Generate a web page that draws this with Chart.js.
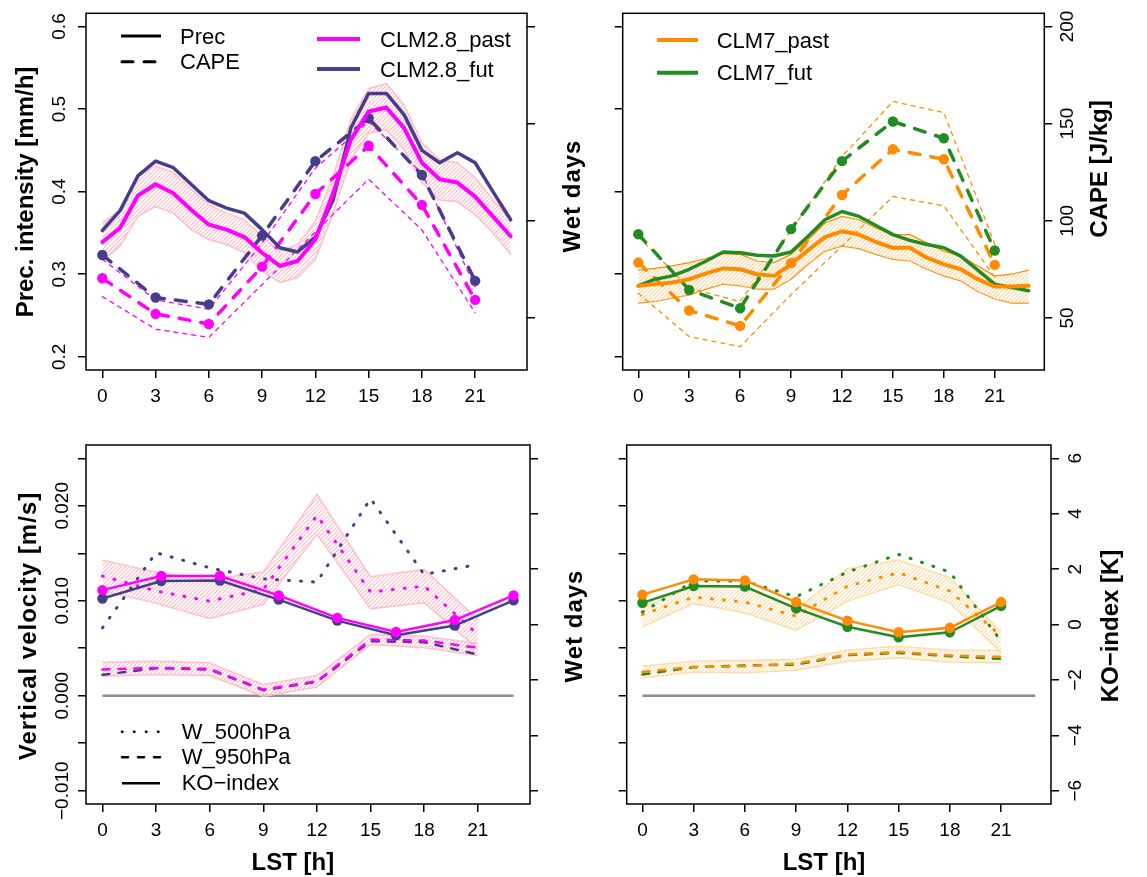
<!DOCTYPE html>
<html>
<head>
<meta charset="utf-8">
<title>Diurnal cycles CLM2.8 / CLM7</title>
<script src="https://cdn.jsdelivr.net/npm/chart.js@4.4.1/dist/chart.umd.min.js"></script>
<style>
html,body{margin:0;padding:0;background:#fff;}
#wrap{position:relative;width:1147px;height:877px;overflow:hidden;background:#fff;font-family:"Liberation Sans",Arial,Helvetica,sans-serif;color:#000;}
#wrap canvas{position:absolute;}
#wrap svg{position:absolute;left:0;top:0;}
.txt{position:absolute;white-space:nowrap;line-height:1;}
.ttl{font-weight:bold;font-size:24px;}
.rot{transform:translate(-50%,-50%) rotate(-90deg);}
.ctr{transform:translate(-50%,-50%);}
.leg{font-size:22px;transform:translateY(-50%);}
</style>
</head>
<body>
<div id="wrap">
<canvas id="cTL" width="573" height="455" style="left:0px;top:-20px"></canvas>
<canvas id="cTR" width="574" height="455" style="left:573px;top:-20px"></canvas>
<canvas id="cBL" width="573" height="457" style="left:0px;top:420px"></canvas>
<canvas id="cBR" width="574" height="457" style="left:573px;top:420px"></canvas>
<svg width="1147" height="877">
  <line x1="121" y1="36" x2="161" y2="36" stroke="#000" stroke-width="3"/>
  <line x1="122" y1="61.7" x2="161" y2="61.7" stroke="#000" stroke-width="3" stroke-dasharray="11 11" stroke-linecap="round"/>
  <line x1="317" y1="39" x2="360" y2="39" stroke="#FF00FF" stroke-width="4"/>
  <line x1="317" y1="69" x2="360" y2="69" stroke="#483D8B" stroke-width="4"/>
  <line x1="657" y1="40" x2="698" y2="40" stroke="#FF8C00" stroke-width="4"/>
  <line x1="657" y1="72.7" x2="698" y2="72.7" stroke="#228B22" stroke-width="4"/>
  <line x1="122" y1="731.7" x2="160" y2="731.7" stroke="#000" stroke-width="2.5" stroke-dasharray="0.5 11.5" stroke-linecap="round"/>
  <line x1="122" y1="757.3" x2="160" y2="757.3" stroke="#000" stroke-width="2.5" stroke-dasharray="6 10" stroke-linecap="round"/>
  <line x1="122" y1="783.3" x2="160" y2="783.3" stroke="#000" stroke-width="2.5"/>
</svg>
<div class="txt leg" style="left:180px;top:36.5px">Prec</div>
<div class="txt leg" style="left:180px;top:62px">CAPE</div>
<div class="txt leg" style="left:380px;top:40px">CLM2.8_past</div>
<div class="txt leg" style="left:380px;top:70px">CLM2.8_fut</div>
<div class="txt leg" style="left:716.7px;top:40.5px">CLM7_past</div>
<div class="txt leg" style="left:716.7px;top:73.3px">CLM7_fut</div>
<div class="txt leg" style="left:181.7px;top:731.7px">W_500hPa</div>
<div class="txt leg" style="left:181.7px;top:757px">W_950hPa</div>
<div class="txt leg" style="left:181.7px;top:783.3px">KO−index</div>

<div class="txt ttl rot" style="left:25px;top:191.7px">Prec. intensity [mm/h]</div>
<div class="txt ttl rot" style="left:572px;top:196px;letter-spacing:1px">Wet days</div>
<div class="txt ttl rot" style="left:1099px;top:169px">CAPE [J/kg]</div>
<div class="txt ttl rot" style="left:28px;top:626px;letter-spacing:1px">Vertical velocity [m/s]</div>
<div class="txt ttl rot" style="left:574px;top:625.7px;letter-spacing:1px">Wet days</div>
<div class="txt ttl rot" style="left:1110px;top:625.6px">KO−index [K]</div>
<div class="txt ttl ctr" style="left:292.8px;top:862px">LST [h]</div>
<div class="txt ttl ctr" style="left:824px;top:862px">LST [h]</div>
</div>

<script>
// ---------------- data ----------------
const hours = [0,1,2,3,4,5,6,7,8,9,10,11,12,13,14,15,16,17,18,19,20,21,22,23];
const hours3 = [0,3,6,9,12,15,18,21];
const koHoursLeft = [0,3.29,6.57,9.86,13.14,16.43,19.71,23];
const zeroLineX = [0,23];
const zeroLineY = [0,0];

const hourTicks = [0,3,6,9,12,15,18,21];
const hourTickLabels = ['0','3','6','9','12','15','18','21'];
const precTicks = [0.2,0.3,0.4,0.5,0.6];
const precTickLabels = ['0.2','0.3','0.4','0.5','0.6'];
const capeTicks = [50,100,150,200];
const capeTickLabels = ['50','100','150','200'];
const velTicks = [-0.010,-0.005,0,0.005,0.010,0.015,0.020,0.025];
const velTickLabels = ['−0.010','','0.000','','0.010','','0.020',''];
const koTicks = [-6,-4,-2,0,2,4,6];
const koTickLabels = ['−6','−4','−2','0','2','4','6'];

const hourLim = [-0.92, 23.92];
const precLim = [0.184, 0.616];
const capeLim = [23.2, 206.8];
const velLim = [-0.0114, 0.0264];
const koLim = [-6.48, 6.48];

// top-left: CLM2.8 precipitation intensity (hourly) and CAPE (3-hourly)
const precPast28   = [0.339,0.356,0.395,0.409,0.398,0.378,0.360,0.354,0.345,0.326,0.310,0.316,0.342,0.398,0.463,0.497,0.502,0.477,0.435,0.415,0.411,0.394,0.370,0.346];
const precFut28    = [0.353,0.377,0.419,0.437,0.429,0.409,0.389,0.380,0.374,0.354,0.332,0.327,0.345,0.390,0.477,0.519,0.519,0.493,0.450,0.435,0.447,0.435,0.400,0.366];
const precPast28Hi = [0.362,0.378,0.419,0.431,0.423,0.403,0.384,0.374,0.366,0.346,0.328,0.336,0.364,0.419,0.487,0.525,0.531,0.505,0.459,0.439,0.435,0.417,0.390,0.366];
const precPast28Lo = [0.316,0.334,0.370,0.382,0.374,0.354,0.342,0.336,0.326,0.304,0.290,0.296,0.318,0.374,0.439,0.471,0.475,0.451,0.411,0.390,0.388,0.372,0.350,0.324];
const capePast28   = [70.4,52.1,46.9,76.4,113.8,138.6,108.2,59.3];
const capeFut28    = [82.4,60.5,57.0,92.4,130.7,152.8,123.6,69.1];
const capePast28Hi = [80.2,59.3,54.5,88.5,127.1,151.1,124.5,66.0];
const capePast28Lo = [61.0,44.2,40.0,67.2,94.3,121.4,95.3,52.6];

// top-right: CLM7
const precPast7   = [0.286,0.288,0.290,0.294,0.301,0.307,0.306,0.300,0.298,0.312,0.329,0.345,0.352,0.348,0.339,0.332,0.332,0.320,0.312,0.306,0.294,0.285,0.285,0.286];
const precFut7    = [0.286,0.294,0.298,0.306,0.316,0.327,0.326,0.323,0.322,0.327,0.346,0.366,0.376,0.370,0.359,0.348,0.341,0.336,0.332,0.322,0.305,0.288,0.284,0.280];
const precPast7Hi = [0.305,0.307,0.310,0.314,0.319,0.325,0.324,0.316,0.314,0.324,0.342,0.362,0.370,0.366,0.356,0.348,0.348,0.338,0.328,0.322,0.310,0.298,0.300,0.305];
const precPast7Lo = [0.265,0.267,0.271,0.275,0.282,0.288,0.286,0.282,0.282,0.294,0.312,0.328,0.334,0.331,0.324,0.318,0.316,0.306,0.298,0.292,0.279,0.270,0.265,0.265];
const capePast7   = [78.5,53.8,45.9,78.2,113.3,136.8,131.7,77.3];
const capeFut7    = [93.1,64.4,55.0,95.7,130.7,151.1,142.5,84.7];
const capePast7Hi = [91.9,65.3,58.4,95.0,133.0,161.4,155.7,88.0];
const capePast7Lo = [62.7,40.4,35.2,62.0,87.0,112.5,107.7,71.0];

// bottom-left: CLM2.8 vertical velocity and KO-index
const w500Fut28    = [0.00715,0.01506,0.01347,0.01231,0.01196,0.02075,0.01277,0.01383];
const w500Past28   = [0.01260,0.01102,0.00996,0.01119,0.01899,0.01091,0.01154,0.00645];
const w500Past28Hi = [0.01428,0.01300,0.01225,0.01302,0.02120,0.01253,0.01330,0.00803];
const w500Past28Lo = [0.01102,0.00975,0.00813,0.00961,0.01699,0.00915,0.00979,0.00494];
const w950Past28   = [0.00276,0.00293,0.00283,0.00065,0.00153,0.00592,0.00581,0.00504];
const w950Fut28    = [0.00220,0.00290,0.00276,0.00058,0.00146,0.00574,0.00564,0.00434];
const w950Past28Hi = [0.00353,0.00364,0.00346,0.00118,0.00213,0.00645,0.00627,0.00550];
const w950Past28Lo = [0.00206,0.00223,0.00213,-0.00005,0.00093,0.00539,0.00504,0.00423];
const koPast28 = [1.24,1.75,1.75,1.05,0.24,-0.27,0.16,1.05];
const koFut28  = [0.94,1.57,1.59,0.90,0.14,-0.39,-0.04,0.87];

// bottom-right: CLM7
const w500Fut7    = [0.00880,0.01207,0.01207,0.01042,0.01302,0.01488,0.01302,0.00574];
const w500Past7   = [0.00856,0.01038,0.00986,0.00838,0.01154,0.01295,0.01102,0.00627];
const w500Past7Hi = [0.00926,0.01154,0.01154,0.00908,0.01337,0.01428,0.01242,0.00669];
const w500Past7Lo = [0.00726,0.00972,0.00873,0.00690,0.00996,0.01172,0.00979,0.00452];
const w950Past7   = [0.00251,0.00304,0.00311,0.00339,0.00434,0.00462,0.00423,0.00409];
const w950Fut7    = [0.00223,0.00300,0.00318,0.00328,0.00427,0.00451,0.00416,0.00388];
const w950Past7Hi = [0.00311,0.00364,0.00371,0.00381,0.00480,0.00522,0.00480,0.00477];
const w950Past7Lo = [0.00188,0.00251,0.00241,0.00269,0.00364,0.00399,0.00353,0.00346];
const koPast7 = [1.08,1.63,1.59,0.81,0.14,-0.28,-0.12,0.81];
const koFut7  = [0.78,1.39,1.37,0.58,-0.08,-0.46,-0.28,0.67];

// ---------------- styling helpers ----------------
const FONT = '"Liberation Sans", Arial, Helvetica, sans-serif';
const COL = { magenta:'#FF00FF', slate:'#483D8B', orange:'#FF8C00', green:'#228B22', gray:'#8C8C8C' };

function hatch(color) {
  const s = 4;
  const c = document.createElement('canvas');
  c.width = s; c.height = s;
  const g = c.getContext('2d');
  g.strokeStyle = color; g.lineWidth = 1.1;
  g.beginPath();
  g.moveTo(-1, s + 1); g.lineTo(s + 1, -1);
  g.moveTo(-1, 1); g.lineTo(1, -1);
  g.moveTo(s - 1, s + 1); g.lineTo(s + 1, s - 1);
  g.stroke();
  return g.createPattern(c, 'repeat');
}
const pinkHatch = hatch('#FFBCC6');
const orangeHatch = hatch('#FFD39E');
const paleOrangeHatch = hatch('#FFDDAE');

function xy(xs, ys) { return xs.map((x, i) => ({ x: x, y: ys[i] })); }
function line(xs, ys, axis, o) {
  return Object.assign({
    data: xy(xs, ys), xAxisID: 'x', yAxisID: axis,
    borderColor: '#000', borderWidth: 1, pointRadius: 0, pointHoverRadius: 0,
    fill: false, tension: 0, borderCapStyle: 'round', borderJoinStyle: 'round', order: 1
  }, o);
}
function pts(color, r) {
  return { pointRadius: r, pointHoverRadius: r, pointBackgroundColor: color, pointBorderColor: color, pointBorderWidth: 0 };
}
function band(xs, hi, lo, axis, edge, pattern, w) {
  return [
    line(xs, hi, axis, { borderColor: edge, borderWidth: w, backgroundColor: pattern, fill: '+1', order: 20, borderCapStyle: 'butt' }),
    line(xs, lo, axis, { borderColor: edge, borderWidth: w, order: 20, borderCapStyle: 'butt' })
  ];
}

const gridOpts = { display: true, drawOnChartArea: false, drawTicks: true, tickLength: 8, tickWidth: 1.5, tickColor: '#000', color: '#000', lineWidth: 1.5 };

function yAxis(pos, lim, ticks, labels, width, pad) {
  return {
    type: 'linear', position: pos, min: lim[0], max: lim[1],
    afterBuildTicks: s => { s.ticks = ticks.map(v => ({ value: v })); },
    afterFit: s => { s.width = width; },
    border: { display: false },
    grid: gridOpts,
    ticks: {
      display: !!labels, autoSkip: false, minRotation: 90, maxRotation: 90, crossAlign: 'center',
      padding: pad, color: '#000', font: { family: FONT, size: 19 },
      callback: (v, i) => labels ? labels[i] : ''
    }
  };
}
function xAxis(height, pad) {
  return {
    type: 'linear', position: 'bottom', min: hourLim[0], max: hourLim[1],
    afterBuildTicks: s => { s.ticks = hourTicks.map(v => ({ value: v })); },
    afterFit: s => { s.height = height; },
    border: { display: false },
    grid: gridOpts,
    ticks: { autoSkip: false, minRotation: 0, maxRotation: 0, padding: pad, color: '#000', font: { family: FONT, size: 19 },
      callback: (v, i) => hourTickLabels[i] }
  };
}

const framePlugin = {
  id: 'frame',
  afterDatasetsDraw(chart) {
    const a = chart.chartArea, ctx = chart.ctx;
    ctx.save();
    ctx.strokeStyle = '#000'; ctx.lineWidth = 1.5;
    ctx.strokeRect(a.left, a.top, a.right - a.left, a.bottom - a.top);
    ctx.restore();
  }
};

function makePanel(id, padTop, datasets, scales) {
  return new Chart(document.getElementById(id), {
    type: 'line',
    data: { datasets: datasets },
    options: {
      responsive: false, animation: false, events: [], devicePixelRatio: 1,
      layout: { autoPadding: false, padding: { top: padTop, left: 0, right: 0, bottom: 0 } },
      plugins: { legend: { display: false }, tooltip: { enabled: false } },
      scales: scales
    },
    plugins: [framePlugin]
  });
}

// ---------------- top-left ----------------
makePanel('cTL', 33.3, [
  ...band(hours, precPast28Hi, precPast28Lo, 'yL', '#FFC0CB', pinkHatch, 1.5),
  line(hours3, capePast28Hi, 'yR', { borderColor: COL.magenta, borderWidth: 1.3, borderDash: [4, 5], order: 10 }),
  line(hours3, capePast28Lo, 'yR', { borderColor: COL.magenta, borderWidth: 1.3, borderDash: [4, 5], order: 10 }),
  line(hours3, capeFut28, 'yR', Object.assign({ borderColor: COL.slate, borderWidth: 3.5, borderDash: [11, 11], order: 3 }, pts(COL.slate, 5.2))),
  line(hours3, capePast28, 'yR', Object.assign({ borderColor: COL.magenta, borderWidth: 3.5, borderDash: [11, 11], order: 3 }, pts(COL.magenta, 5.2))),
  line(hours, precFut28, 'yL', { borderColor: COL.slate, borderWidth: 3.5, order: 2 }),
  line(hours, precPast28, 'yL', { borderColor: COL.magenta, borderWidth: 4, order: 1 })
], {
  x: xAxis(65, 7),
  yL: yAxis('left', precLim, precTicks, precTickLabels, 86, 4.8),
  yR: yAxis('right', capeLim, capeTicks, null, 46, 0)
});

// ---------------- top-right ----------------
makePanel('cTR', 33.3, [
  ...band(hours, precPast7Hi, precPast7Lo, 'yL', COL.orange, orangeHatch, 1.2),
  line(hours3, capePast7Hi, 'yR', { borderColor: COL.orange, borderWidth: 1.3, borderDash: [4, 5], order: 10 }),
  line(hours3, capePast7Lo, 'yR', { borderColor: COL.orange, borderWidth: 1.3, borderDash: [4, 5], order: 10 }),
  line(hours3, capeFut7, 'yR', Object.assign({ borderColor: COL.green, borderWidth: 3.5, borderDash: [11, 11], order: 3 }, pts(COL.green, 5.2))),
  line(hours3, capePast7, 'yR', Object.assign({ borderColor: COL.orange, borderWidth: 3.5, borderDash: [11, 11], order: 3 }, pts(COL.orange, 5.2))),
  line(hours, precFut7, 'yL', { borderColor: COL.green, borderWidth: 3.5, order: 2 }),
  line(hours, precPast7, 'yL', { borderColor: COL.orange, borderWidth: 4, order: 1 })
], {
  x: xAxis(65, 7),
  yL: yAxis('left', precLim, precTicks, null, 49.7, 0),
  yR: yAxis('right', capeLim, capeTicks, capeTickLabels, 102.7, -0.6)
});

// ---------------- bottom-left ----------------
makePanel('cBL', 25, [
  line(zeroLineX, zeroLineY, 'yL', { borderColor: COL.gray, borderWidth: 2.5, borderCapStyle: 'butt', order: 30 }),
  ...band(hours3, w500Past28Hi, w500Past28Lo, 'yL', '#FFC0CB', pinkHatch, 1.5),
  ...band(hours3, w950Past28Hi, w950Past28Lo, 'yL', '#FFC0CB', pinkHatch, 1.5),
  line(hours3, w500Fut28, 'yL', { borderColor: COL.slate, borderWidth: 3, borderDash: [1, 11], order: 5 }),
  line(hours3, w500Past28, 'yL', { borderColor: COL.magenta, borderWidth: 3, borderDash: [1, 11], order: 4 }),
  line(hours3, w950Fut28, 'yL', { borderColor: COL.slate, borderWidth: 2.5, borderDash: [7, 9], order: 5 }),
  line(hours3, w950Past28, 'yL', { borderColor: COL.magenta, borderWidth: 2.5, borderDash: [7, 9], order: 4 }),
  line(koHoursLeft, koFut28, 'yR', Object.assign({ borderColor: COL.slate, borderWidth: 2.5, order: 2 }, pts(COL.slate, 5.2))),
  line(koHoursLeft, koPast28, 'yR', Object.assign({ borderColor: COL.magenta, borderWidth: 2.5, order: 1 }, pts(COL.magenta, 5.2)))
], {
  x: xAxis(73, 7),
  yL: yAxis('left', velLim, velTicks, velTickLabels, 86, -13.8),
  yR: yAxis('right', koLim, koTicks, null, 43, 0)
});

// ---------------- bottom-right ----------------
makePanel('cBR', 25, [
  line(zeroLineX, zeroLineY, 'yL', { borderColor: COL.gray, borderWidth: 2.5, borderCapStyle: 'butt', order: 30 }),
  ...band(hours3, w500Past7Hi, w500Past7Lo, 'yL', '#FFDCA8', paleOrangeHatch, 1.5),
  ...band(hours3, w950Past7Hi, w950Past7Lo, 'yL', '#FFDCA8', paleOrangeHatch, 1.5),
  line(hours3, w500Fut7, 'yL', { borderColor: COL.green, borderWidth: 3, borderDash: [1, 11], order: 5 }),
  line(hours3, w500Past7, 'yL', { borderColor: COL.orange, borderWidth: 3, borderDash: [1, 11], order: 4 }),
  line(hours3, w950Fut7, 'yL', { borderColor: COL.green, borderWidth: 2.5, borderDash: [7, 9], order: 5 }),
  line(hours3, w950Past7, 'yL', { borderColor: COL.orange, borderWidth: 2.5, borderDash: [7, 9], order: 4 }),
  line(hours3, koFut7, 'yR', Object.assign({ borderColor: COL.green, borderWidth: 2.5, order: 2 }, pts(COL.green, 5.2))),
  line(hours3, koPast7, 'yR', Object.assign({ borderColor: COL.orange, borderWidth: 2.5, order: 1 }, pts(COL.orange, 5.2)))
], {
  x: xAxis(73, 7),
  yL: yAxis('left', velLim, velTicks, null, 53.7, 0),
  yR: yAxis('right', koLim, koTicks, koTickLabels, 96, 6.2)
});
</script>
</body>
</html>
